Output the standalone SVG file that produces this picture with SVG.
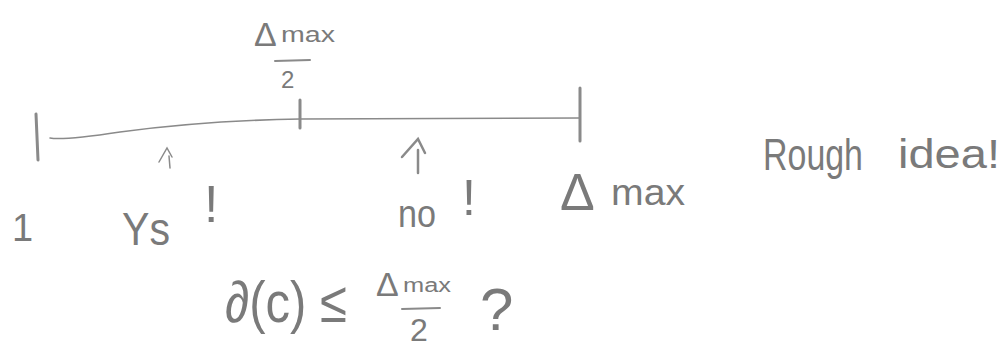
<svg xmlns="http://www.w3.org/2000/svg" width="1004" height="347" viewBox="0 0 1004 347">
<style>
.t{font-family:"Liberation Sans",Arial,sans-serif;fill:#7a7a7a;}
.s{stroke:#8a8a8a;fill:none;stroke-linecap:round;}
</style>
<rect width="1004" height="347" fill="#ffffff"/>
<g id="connectors">
<path class="s" stroke-width="1.5" d="M50,138 C60,140 80,138 120,132 C180,124 240,120 300,119 L580,118"/>
<line class="s" stroke-width="3" x1="36" y1="114" x2="38" y2="160"/>
<line class="s" stroke-width="3" x1="300" y1="100" x2="300" y2="128"/>
<line class="s" stroke-width="3" x1="580" y1="88" x2="580" y2="141"/>
<path class="s" stroke-width="1.5" d="M170,168 L169,156 M159,162 L167,148 L172,157"/>
<path class="s" stroke-width="2.5" d="M418,173 L418,150 M402,157 L418,139 L425,153"/>
</g>
<g id="node-half-top">
<text class="t" x="254" y="46" font-size="34">Δ</text>
<text class="t" x="281" y="42" font-size="22" textLength="54" lengthAdjust="spacingAndGlyphs">max</text>
<line class="s" stroke-width="2" x1="275" y1="61" x2="310" y2="60"/>
<text class="t" x="281" y="88" font-size="24">2</text>
</g>
<g id="node-one"><text class="t" x="12" y="241" font-size="38">1</text></g>
<g id="node-yes">
<text class="t" x="122" y="245" font-size="46" textLength="48" lengthAdjust="spacingAndGlyphs">Ys</text>
<text class="t" x="204" y="222" font-size="52">!</text>
</g>
<g id="node-no">
<text class="t" x="398" y="227" font-size="38" textLength="38" lengthAdjust="spacingAndGlyphs">no</text>
<text class="t" x="462" y="215" font-size="50">!</text>
</g>
<g id="node-dmax">
<text class="t" x="560" y="210" font-size="52">Δ</text>
<text class="t" x="611" y="205" font-size="36" textLength="74" lengthAdjust="spacingAndGlyphs">max</text>
</g>
<g id="node-rough">
<text class="t" x="763" y="170" font-size="44" textLength="100" lengthAdjust="spacingAndGlyphs">Rough</text>
<text class="t" x="898" y="168" font-size="40" textLength="102" lengthAdjust="spacingAndGlyphs">idea!</text>
</g>
<g id="node-question">
<text class="t" x="225" y="322" font-size="58" textLength="122" lengthAdjust="spacingAndGlyphs">∂(c) ≤</text>
<text class="t" x="376" y="296" font-size="34">Δ</text>
<text class="t" x="403" y="292" font-size="20" textLength="48" lengthAdjust="spacingAndGlyphs">max</text>
<line class="s" stroke-width="2" x1="402" y1="309" x2="440" y2="308"/>
<text class="t" x="410" y="341" font-size="32">2</text>
<text class="t" x="480" y="330" font-size="60">?</text>
</g>
</svg>
